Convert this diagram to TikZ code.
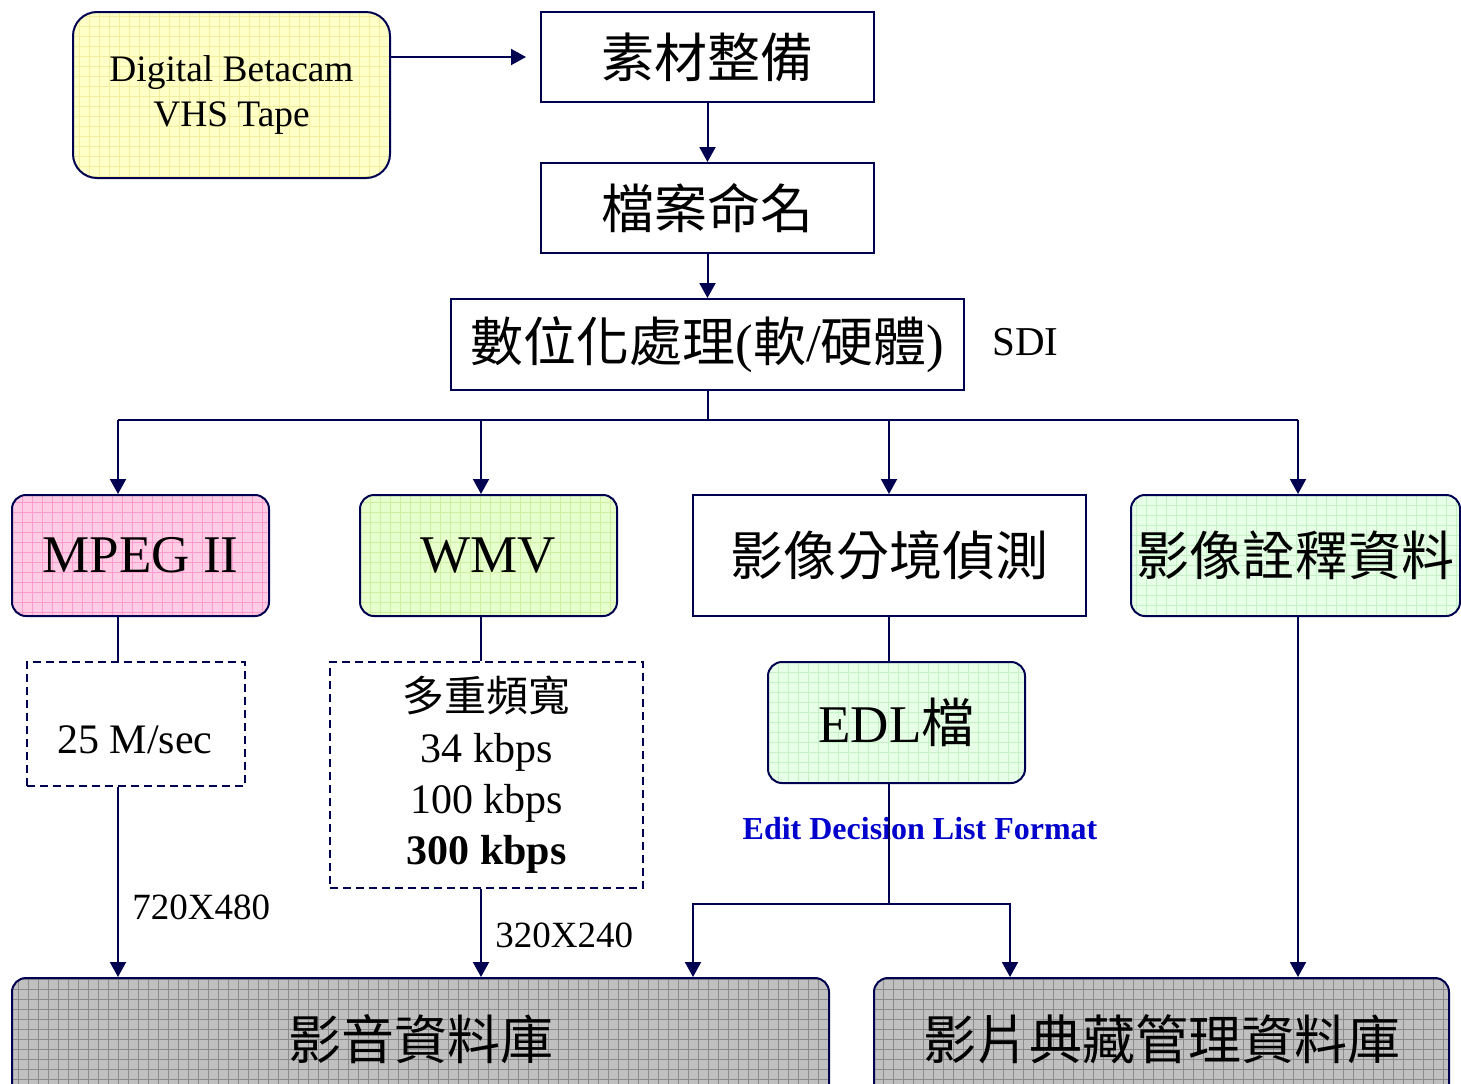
\documentclass[tikz,border=0pt]{standalone}
\usepackage{fontspec}
\setmainfont{Liberation Serif}
\newfontfamily\cjk{Noto Sans CJK TC}
\usepackage{tikz}
\usetikzlibrary{arrows.meta}
\definecolor{navyline}{HTML}{000050}
\definecolor{tapefill}{HTML}{FFFFC8}
\definecolor{tapegrid}{HTML}{F2EE9E}
\definecolor{mpegfill}{HTML}{FFCCE6}
\definecolor{mpeggrid}{HTML}{FF9ACC}
\definecolor{wmvfill}{HTML}{E6FFCC}
\definecolor{wmvgrid}{HTML}{CCF0A0}
\definecolor{notefill}{HTML}{E6FFE6}
\definecolor{notegrid}{HTML}{C4F2C4}
\definecolor{dbfill}{HTML}{C0C0C0}
\definecolor{dbgrid}{HTML}{8A8A8A}
\definecolor{edlblue}{HTML}{0000CC}
\newcommand\bigfont{\fontsize{26.5}{30}\selectfont}
\newcommand\midfont{\fontsize{21}{25.5}\selectfont}
\newcommand\smallfont{\fontsize{18.5}{22}\selectfont}

\begin{document}
\begin{tikzpicture}[
    x=0.5pt, y=-0.5pt,
    every node/.style={inner sep=0pt, align=center},
    flow/.style={draw=navyline, line width=1pt},
    arr/.style={flow, -{Triangle[width=8pt,length=7.5pt]}},
    plainbox/.style={draw=navyline, line width=1pt, fill=white},
    roundbox/.style={plainbox, rounded corners=7pt},
    dashbox/.style={draw=navyline, line width=1pt, dash pattern=on 4pt off 2.5pt},
    grid paper/.style={path picture={
        \draw[#1, line width=0.5pt, step=5pt]
            (path picture bounding box.south west) grid (path picture bounding box.north east);}}
]
\useasboundingbox (0,0) rectangle (1461,1083);

% source and preparation
\node[roundbox, rounded corners=12pt, fill=tapefill, grid paper=tapegrid,
      minimum width=158.5pt, minimum height=83pt, font=\fontsize{18.7}{22.5}\selectfont]
    (tape) at (231.5,95) {Digital Betacam\\VHS Tape};
\node[plainbox, minimum width=166.5pt, minimum height=45pt, font=\bigfont\cjk]
    (prep) at (707.5,57) {素材整備};
\node[plainbox, minimum width=166.5pt, minimum height=45pt, font=\bigfont\cjk]
    (naming) at (707.5,208) {檔案命名};
\node[plainbox, minimum width=256.5pt, minimum height=45.5pt, font=\bigfont\cjk]
    (digit) at (707.5,344.5) {數位化處理{\rmfamily(}軟{\rmfamily/}硬體{\rmfamily)}};
\node[anchor=west, font=\fontsize{20.5}{24}\selectfont] (sdi) at (992,342) {SDI};

% formats
\node[roundbox, fill=mpegfill, grid paper=mpeggrid,
      minimum width=128.5pt, minimum height=60.5pt, font=\bigfont] (mpeg) at (140.5,555.5) {MPEG II};
\node[roundbox, fill=wmvfill, grid paper=wmvgrid,
      minimum width=128.5pt, minimum height=60.5pt, font=\bigfont] (wmv) at (488.5,555.5) {WMV};
\node[plainbox, minimum width=196.5pt, minimum height=60.5pt, font=\bigfont\cjk]
    (shot) at (889.5,555.5) {影像分境偵測};
\node[roundbox, fill=notefill, grid paper=notegrid,
      minimum width=164.5pt, minimum height=60.5pt, font=\bigfont\cjk] (meta) at (1295.5,555.5) {影像詮釋資料};

% rates
\node[dashbox, minimum width=109pt, minimum height=62pt] (rate) at (136,724) {};
\node[font=\midfont] (ratetext) at (135,740) {25 M/sec};
\node[dashbox, minimum width=156.5pt, minimum height=113pt, font=\midfont]
    (band) at (486.5,775) {{\cjk 多重頻寬}\\34 kbps\\100 kbps\\\textbf{300 kbps}};
\node[roundbox, fill=notefill, grid paper=notegrid,
      minimum width=128.5pt, minimum height=60.5pt, font=\bigfont] (edl) at (896.5,722.5) {EDL{\cjk 檔}};
\node[font=\fontsize{16}{19}\selectfont\bfseries, text=edlblue] (edlnote) at (920,829) {Edit Decision List Format};
\node[anchor=west, font=\smallfont] (fullres) at (132,907) {720X480};
\node[anchor=west, font=\smallfont] (lowres) at (495,935) {320X240};

% databases
\node[roundbox, fill=dbfill, grid paper=dbgrid,
      minimum width=408.5pt, minimum height=61pt, font=\bigfont\cjk] (avdb) at (420.5,1039) {影音資料庫};
\node[roundbox, fill=dbfill, grid paper=dbgrid,
      minimum width=287.5pt, minimum height=61pt, font=\bigfont\cjk] (archdb) at (1161.5,1039) {影片典藏管理資料庫};

% connectors
\coordinate (b1) at (118,420);
\coordinate (b2) at (481,420);
\coordinate (b3) at (889,420);
\coordinate (b4) at (1298,420);
\coordinate (fork) at (889,904);
\coordinate (fl) at (693,904);
\coordinate (fr) at (1010,904);

\draw[arr, shorten >=7pt] (tape.east |- prep.west) -- (prep.west);
\draw[arr] (prep) -- (naming);
\draw[arr] (naming) -- (digit);
\draw[flow] (digit.south) -- (digit.south |- b1);
\draw[flow] (b1) -- (b4);
\foreach \b/\n in {b1/mpeg, b2/wmv, b3/shot, b4/meta}
    \draw[arr] (\b) -- (\b |- \n.north);

\draw[flow] (b1 |- mpeg.south) -- (b1 |- rate.north);
\draw[arr] (b1 |- rate.south) -- (b1 |- avdb.north);
\draw[flow] (b2 |- wmv.south) -- (b2 |- band.north);
\draw[arr] (b2 |- band.south) -- (b2 |- avdb.north);
\draw[flow] (b3 |- shot.south) -- (b3 |- edl.north);
\draw[flow] (b3 |- edl.south) -- (fork);
\draw[arr] (fork) -- (fl) -- (fl |- avdb.north);
\draw[arr] (fork) -- (fr) -- (fr |- archdb.north);
\draw[arr] (b4 |- meta.south) -- (b4 |- archdb.north);
\end{tikzpicture}
\end{document}
